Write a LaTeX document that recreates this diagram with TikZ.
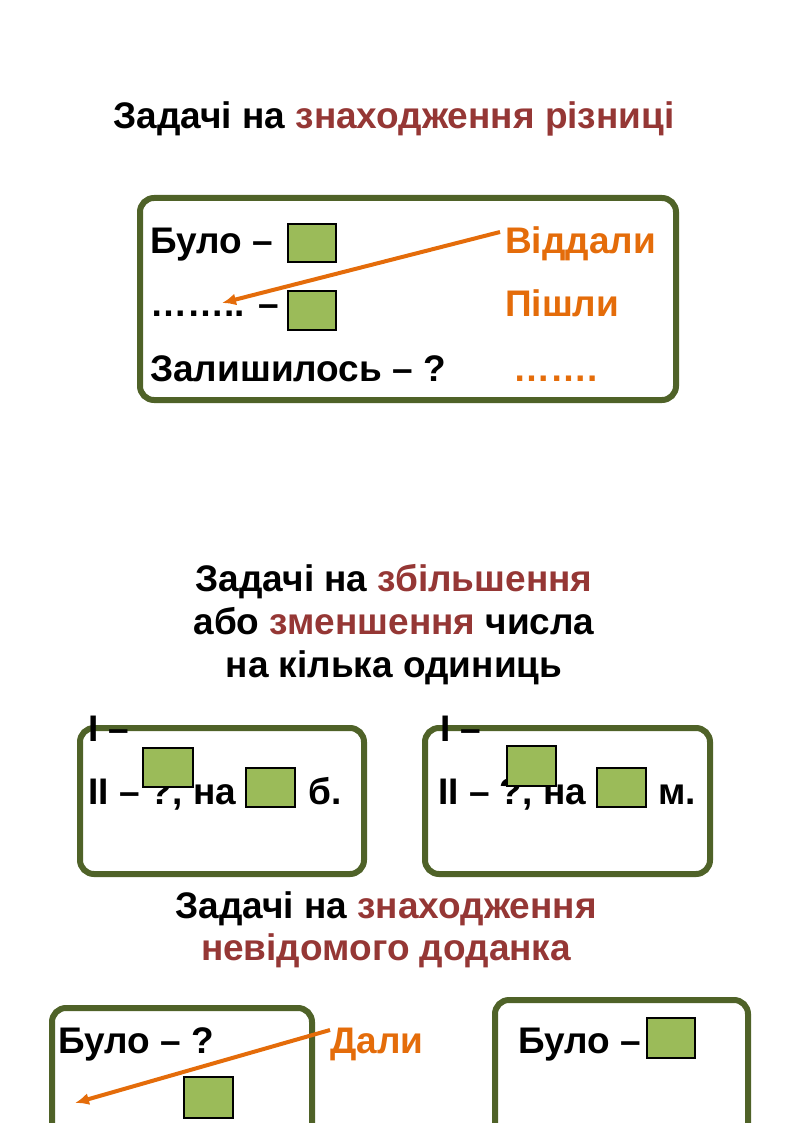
\documentclass[tikz,border=0pt]{standalone}
\usepackage{fontspec}
\setmainfont{Liberation Sans}
\definecolor{darkred}{HTML}{953735}
\definecolor{orng}{HTML}{E46C0A}
\definecolor{frame}{HTML}{4F6228}
\definecolor{leaf}{HTML}{9BBB59}
\tikzset{
  txt/.style={anchor=base west,inner sep=0pt,font=\fontsize{37}{42}\selectfont\bfseries},
  ttl/.style={anchor=base,inner sep=0pt,font=\fontsize{37}{42}\selectfont\bfseries},
  panel/.style={draw=frame,line width=6pt,rounded corners=14pt},
  cell/.style={draw=black,line width=2pt,fill=leaf},
  pointer/.style={draw=orng,line width=4pt,-{Latex[length=14pt,width=12pt]}}
}
\usetikzlibrary{arrows.meta}
\begin{document}
\begin{tikzpicture}[x=1pt,y=-1pt]
  \useasboundingbox (0,0) rectangle (794,1123);
  \clip (0,0) rectangle (794,1123);

  % difference
  \node[ttl] (t1) at (394,129) {Задачі на \textcolor{darkred}{знаходження різниці}};
  \draw[panel] (140,198) rectangle (676,400);
  \node[txt] (b1) at (150,254) {Було –};
  \draw[cell] (288,224) rectangle (336,262);
  \node[txt,text=orng] (g1) at (505,254) {Віддали};
  \node[txt] (d1) at (150,316) {…….. –};
  \draw[cell] (288,291) rectangle (336,330);
  \node[txt,text=orng] (p1) at (505,316) {Пішли};
  \node[txt] (z1) at (150,381) {Залишилось – ?};
  \node[txt,text=orng] (e1) at (513,381) {…….};
  \coordinate (a1) at (500,232);
  \coordinate (a2) at (222,303);
  \draw[pointer] (a1) -- (a2);

  % increase / decrease
  \node[ttl] (t2) at (394,591) {Задачі на \textcolor{darkred}{збільшення}};
  \node[ttl] (t2b) at (394,634) {або \textcolor{darkred}{зменшення} числа};
  \node[ttl] (t2c) at (394,677) {на кілька одиниць};
  \draw[panel] (80,728) rectangle (364,874);
  \draw[panel] (425,728) rectangle (710,874);
  \node[txt] (l1) at (88,741) {І –};
  \node[txt] (m1) at (88,804) {ІІ – ?, на};
  \draw[cell] (143,748) rectangle (193,787);
  \draw[cell] (246,768) rectangle (295,807);
  \node[txt] (n1) at (308,804) {б.};
  \node[txt] (l2) at (440,741) {І –};
  \node[txt] (m2) at (438,804) {ІІ – ?, на};
  \draw[cell] (507,746) rectangle (556,786);
  \draw[cell] (597,768) rectangle (646,807);
  \node[txt] (n2) at (658,804) {м.};

  % unknown addend
  \node[ttl] (t3) at (386,918) {Задачі на \textcolor{darkred}{знаходження}};
  \node[ttl] (t3b) at (386,960) {\textcolor{darkred}{невідомого доданка}};
  \draw[panel] (52,1008) rectangle (312,1160);
  \draw[panel] (495,1000) rectangle (748,1160);
  \node[txt] (b2) at (58,1053) {Було – ?};
  \node[txt,text=orng] (g2) at (330,1053) {Дали};
  \draw[cell] (184,1077) rectangle (233,1118);
  \coordinate (a3) at (330,1030);
  \coordinate (a4) at (75,1103);
  \draw[pointer] (a3) -- (a4);
  \node[txt] (b3) at (518,1053) {Було –};
  \draw[cell] (647,1018) rectangle (695,1058);
\end{tikzpicture}
\end{document}
